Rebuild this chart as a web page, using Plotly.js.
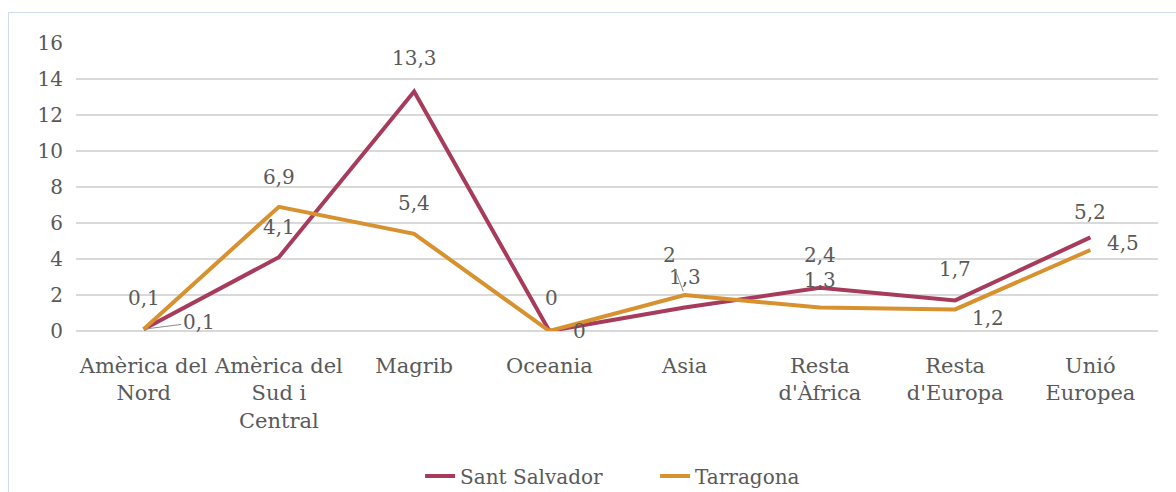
<!DOCTYPE html>
<html>
<head>
<meta charset="utf-8">
<script src="https://cdn.plot.ly/plotly-3.0.1.min.js"></script>
<style>
  html, body { margin: 0; padding: 0; background: #ffffff; }
  #wrap { position: relative; width: 1176px; height: 492px; overflow: hidden; }
  #chart { width: 1176px; height: 492px; }
  #frame { position: absolute; left: 8px; top: 12px; width: 1300px; height: 600px;
           border-left: 1px solid #cfdcf0; border-top: 1px solid #cfdcf0; pointer-events: none; }
</style>
</head>
<body>
<div id="wrap">
  <div id="chart"></div>
  <div id="frame"></div>
</div>
<script>
// ---- data ----
const categories = ["Amèrica del Nord", "Amèrica del Sud i Central", "Magrib", "Oceania",
                    "Asia", "Resta d'Àfrica", "Resta d'Europa", "Unió Europea"];
const categoryLabels = ["Amèrica del<br>Nord", "Amèrica del<br>Sud i<br>Central", "Magrib", "Oceania",
                        "Asia", "Resta<br>d'Àfrica", "Resta<br>d'Europa", "Unió<br>Europea"];
const santSalvador = [0.1, 4.1, 13.3, 0, 1.3, 2.4, 1.7, 5.2];
const tarragona = [0.1, 6.9, 5.4, 0, 2, 1.3, 1.2, 4.5];
const seriesNames = ["Sant Salvador", "Tarragona"];
const yTicks = [0, 2, 4, 6, 8, 10, 12, 14, 16];

// ---- styling (label placement offsets in px, leader flags) ----
const ssLabelOffset = [[55, -7], [0, -30], [0, -34], [30, 0], [0, -31], [0, -33], [0, -31], [0, -25]];
const tgLabelOffset = [[0, -31], [0, -30], [0, -31], [2, -33], [-15, -40], [0, -28], [33, 9], [33, -7]];
const ssLeader = [true, false, false, false, false, false, false, false];
const tgLeader = [false, false, false, false, true, false, false, false];
const colors = ["#a73b5b", "#d8912f"];
const textColor = "#595959";
const fontFamily = "DejaVu Serif, Liberation Serif, serif";

function fmt(v) { return String(v).replace('.', ','); }

const traces = [santSalvador, tarragona].map((vals, i) => ({
  type: 'scatter',
  mode: 'lines',
  name: seriesNames[i],
  x: categories,
  y: vals,
  line: { color: colors[i], width: 4 },
  hoverinfo: 'skip'
}));

const annotations = [];
[[santSalvador, ssLabelOffset, ssLeader], [tarragona, tgLabelOffset, tgLeader]].forEach(([vals, offs, leads]) => {
  vals.forEach((v, j) => {
    annotations.push({
      x: categories[j], y: v, xref: 'x', yref: 'y',
      text: fmt(v),
      showarrow: true,
      ax: offs[j][0], ay: offs[j][1],
      arrowhead: 0, arrowwidth: 1,
      arrowcolor: leads[j] ? '#8c8c8c' : 'rgba(0,0,0,0)',
      standoff: 4,
      font: { family: fontFamily, size: 20, color: textColor }
    });
  });
});

const layout = {
  width: 1176, height: 492,
  margin: { l: 76, r: 18, t: 43, b: 161, autoexpand: false },
  paper_bgcolor: '#ffffff', plot_bgcolor: '#ffffff',
  showlegend: true,
  legend: {
    orientation: 'h', x: 0.318, xanchor: 'left',
    yref: 'container', y: 0.0325, yanchor: 'middle',
    font: { family: fontFamily, size: 20, color: textColor },
    entrywidth: 190, entrywidthmode: 'pixels', traceorder: 'normal'
  },
  xaxis: {
    type: 'category', automargin: false,
    range: [-0.5, categories.length - 0.5],
    tickmode: 'array', tickvals: categories, ticktext: categoryLabels,
    showgrid: false, zeroline: false, showline: false,
    ticks: '', ticklabelstandoff: 20,
    tickfont: { family: fontFamily, size: 21, color: textColor },
    fixedrange: true
  },
  yaxis: {
    range: [0, 16], automargin: false,
    tickmode: 'array', tickvals: yTicks, ticktext: yTicks.map(String),
    showgrid: true, gridcolor: '#d9d9d9', gridwidth: 2,
    zeroline: true, zerolinecolor: '#d9d9d9', zerolinewidth: 2,
    showline: false, ticks: '', ticklabelstandoff: 12,
    tickfont: { family: fontFamily, size: 20, color: textColor },
    fixedrange: true
  },
  annotations: annotations
};

Plotly.newPlot('chart', traces, layout, { staticPlot: true, displayModeBar: false });
</script>
</body>
</html>
